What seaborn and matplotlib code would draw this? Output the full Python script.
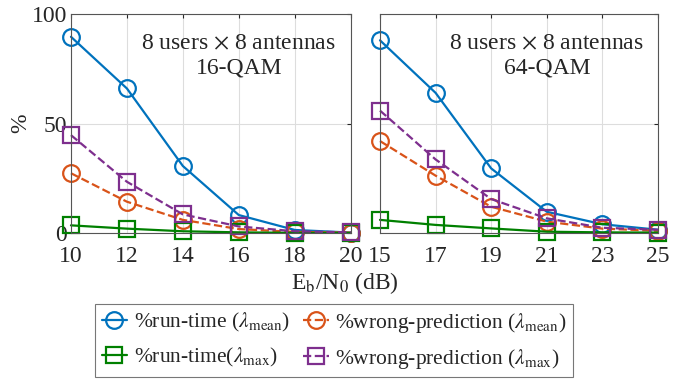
import numpy as np
import pandas as pd
import matplotlib
matplotlib.use("Agg")
import matplotlib.pyplot as plt
import seaborn as sns

# Eb/N0 grids for the two modulation schemes
snr_16qam = [10, 12, 14, 16, 18, 20]
snr_64qam = [15, 17, 19, 21, 23, 25]

# 16-QAM percentages
runtime_mean_16 = [89.6, 66.0, 30.6, 8.2, 1.4, 0.2]
wrong_mean_16 = [27.3, 14.3, 6.0, 1.8, 0.5, 0.2]
runtime_max_16 = [3.5, 2.0, 0.8, 0.3, 0.1, 0.05]
wrong_max_16 = [44.7, 23.4, 8.5, 3.0, 0.8, 0.3]

# 64-QAM percentages
runtime_mean_64 = [88.0, 64.0, 29.5, 9.7, 4.0, 1.5]
wrong_mean_64 = [42.0, 26.2, 12.0, 5.2, 2.0, 1.0]
runtime_max_64 = [6.0, 3.7, 2.1, 0.6, 0.3, 0.2]
wrong_max_64 = [55.9, 33.6, 15.5, 6.7, 2.4, 1.5]

labels = [
    r"%run-time ($\lambda_{\mathrm{mean}}$)",
    r"%wrong-prediction ($\lambda_{\mathrm{mean}}$)",
    r"%run-time($\lambda_{\mathrm{max}}$)",
    r"%wrong-prediction ($\lambda_{\mathrm{max}}$)",
]
panel_titles = ["8 users $\\times$ 8 antennas\n16-QAM",
                "8 users $\\times$ 8 antennas\n64-QAM"]

sns.set_theme(style="whitegrid")
plt.rcParams["font.family"] = ["Liberation Serif", "TeX Gyre Termes",
                               "STIXGeneral", "DejaVu Serif"]
plt.rcParams["mathtext.fontset"] = "stix"

colors = ["#0072BD", "#D95319", "#008000", "#7E2F8E"]
markers = ["o", "o", "s", "s"]
styles = ["-", "--", "-", "--"]
msizes = [12, 12, 11, 11]

fig = plt.figure(figsize=(6.89, 3.83), dpi=100)
ax1 = fig.add_axes([0.103, 0.3916, 0.406, 0.5718])
ax2 = fig.add_axes([0.5515, 0.3916, 0.4035, 0.5718])

panels = [
    (ax1, snr_16qam, [runtime_mean_16, wrong_mean_16, runtime_max_16, wrong_max_16]),
    (ax2, snr_64qam, [runtime_mean_64, wrong_mean_64, runtime_max_64, wrong_max_64]),
]

for k, (ax, snr, series) in enumerate(panels):
    for i, vals in enumerate(series):
        df = pd.DataFrame({"snr": snr, "pct": vals})
        sns.lineplot(data=df, x="snr", y="pct", ax=ax, color=colors[i],
                     linestyle=styles[i], marker=markers[i], markersize=msizes[i],
                     markerfacecolor="none", markeredgecolor=colors[i],
                     markeredgewidth=1.6, linewidth=1.6, clip_on=False,
                     label=labels[i] if k == 0 else None, legend=False)
    ax.set_xlim(snr[0], snr[-1])
    ax.set_ylim(0, 100)
    ax.set_xticks(snr)
    ax.set_yticks([0, 50, 100])
    ax.set_xlabel("")
    ax.set_ylabel("")
    ax.grid(True, color="#dddddd", linewidth=0.8)
    for s in ax.spines.values():
        s.set_color("#555555")
        s.set_linewidth(0.8)
    ax.tick_params(axis="both", direction="in", length=3, labelsize=17,
                   colors="#262626", top=True, right=True, width=0.8)
    ax.tick_params(axis="x", pad=9)
    ax.tick_params(axis="y", pad=3)
    ax.text(0.6, 0.81, panel_titles[k], transform=ax.transAxes,
            ha="center", va="center", fontsize=17, color="#262626",
            linespacing=1.2)

ax2.set_yticklabels([])
ax1.set_ylabel("%", fontsize=17, color="#262626", labelpad=0)

fig.text(0.5, 0.262, r"E$_\mathrm{b}$/N$_\mathrm{0}$ (dB)", ha="center",
         va="center", fontsize=17, color="#262626")

h, l = ax1.get_legend_handles_labels()
order = [0, 2, 1, 3]
leg = fig.legend([h[i] for i in order], [l[i] for i in order], ncol=2,
                 loc="upper left", bbox_to_anchor=(0.138, 0.205),
                 fontsize=15.5, frameon=True, fancybox=False, handlelength=1.2,
                 handletextpad=0.3, columnspacing=0.6, labelspacing=0.55,
                 borderpad=0.3, borderaxespad=0.0)
leg.get_frame().set_edgecolor("#555555")
leg.get_frame().set_linewidth(0.8)

fig.savefig("out.png", dpi=100)
